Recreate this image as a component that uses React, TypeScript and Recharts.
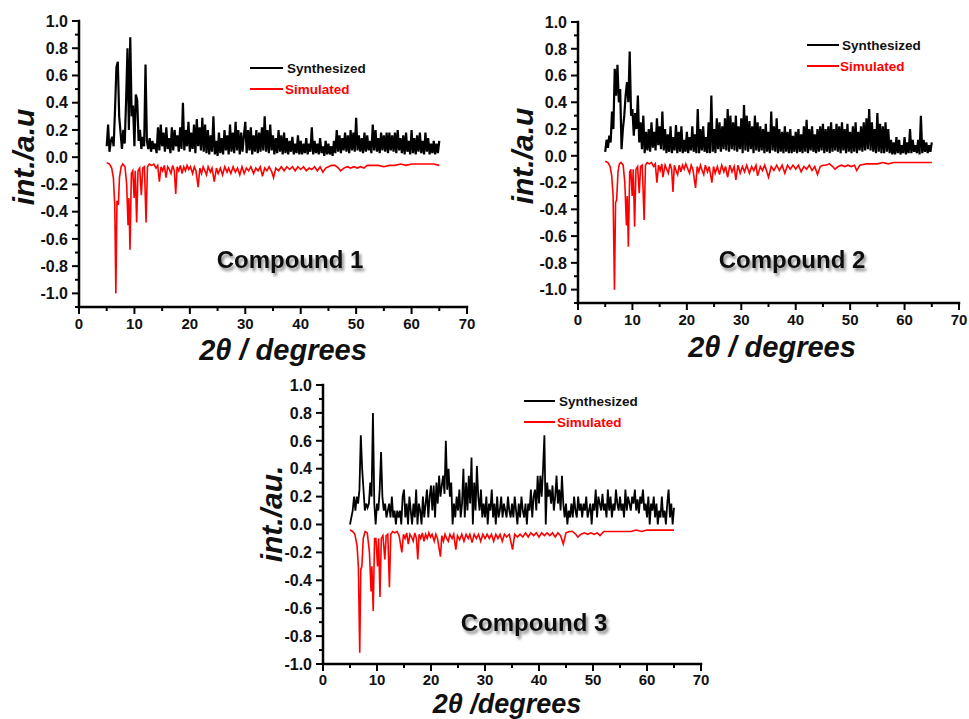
import React from 'react';
import { LineChart, Line, XAxis, YAxis } from 'recharts';

const FONT = '"Liberation Sans", Arial, Helvetica, sans-serif';

// 2θ grid of the measured (synthesized) patterns
const TWO_THETA = [
  5, 5.25, 5.5, 5.75, 6, 6.25, 6.5, 6.75, 7, 7.25, 7.5, 7.75, 8, 8.25, 8.5, 8.75, 9, 9.25, 9.5, 9.75,
  10, 10.25, 10.5, 10.75, 11, 11.25, 11.5, 11.75, 12, 12.25, 12.5, 12.75, 13, 13.25, 13.5, 13.75, 14, 14.25, 14.5, 14.75,
  15, 15.25, 15.5, 15.75, 16, 16.25, 16.5, 16.75, 17, 17.25, 17.5, 17.75, 18, 18.25, 18.5, 18.75, 19, 19.25, 19.5, 19.75,
  20, 20.25, 20.5, 20.75, 21, 21.25, 21.5, 21.75, 22, 22.25, 22.5, 22.75, 23, 23.25, 23.5, 23.75, 24, 24.25, 24.5, 24.75,
  25, 25.25, 25.5, 25.75, 26, 26.25, 26.5, 26.75, 27, 27.25, 27.5, 27.75, 28, 28.25, 28.5, 28.75, 29, 29.25, 29.5, 29.75,
  30, 30.25, 30.5, 30.75, 31, 31.25, 31.5, 31.75, 32, 32.25, 32.5, 32.75, 33, 33.25, 33.5, 33.75, 34, 34.25, 34.5, 34.75,
  35, 35.25, 35.5, 35.75, 36, 36.25, 36.5, 36.75, 37, 37.25, 37.5, 37.75, 38, 38.25, 38.5, 38.75, 39, 39.25, 39.5, 39.75,
  40, 40.25, 40.5, 40.75, 41, 41.25, 41.5, 41.75, 42, 42.25, 42.5, 42.75, 43, 43.25, 43.5, 43.75, 44, 44.25, 44.5, 44.75,
  45, 45.25, 45.5, 45.75, 46, 46.25, 46.5, 46.75, 47, 47.25, 47.5, 47.75, 48, 48.25, 48.5, 48.75, 49, 49.25, 49.5, 49.75,
  50, 50.25, 50.5, 50.75, 51, 51.25, 51.5, 51.75, 52, 52.25, 52.5, 52.75, 53, 53.25, 53.5, 53.75, 54, 54.25, 54.5, 54.75,
  55, 55.25, 55.5, 55.75, 56, 56.25, 56.5, 56.75, 57, 57.25, 57.5, 57.75, 58, 58.25, 58.5, 58.75, 59, 59.25, 59.5, 59.75,
  60, 60.25, 60.5, 60.75, 61, 61.25, 61.5, 61.75, 62, 62.25, 62.5, 62.75, 63, 63.25, 63.5, 63.75, 64, 64.25, 64.5, 64.75,
  65,
];

const SYN_1 = [
  0.08, 0.24, 0.04, 0.12, 0.15, 0.08, 0.35, 0.66, 0.70, 0.30, 0.18, 0.06, 0.20, 0.10, 0.42, 0.80, 0.20, 0.88, 0.30, 0.38,
  0.08, 0.46, 0.42, 0.12, 0.20, 0.06, 0.15, 0.08, 0.68, 0.12, 0.06, 0.14, 0.04, 0.12, 0.06, 0.10, 0.03, 0.22, 0.05, 0.24,
  0.08, 0.18, 0.04, 0.22, 0.06, 0.14, 0.03, 0.22, 0.05, 0.20, 0.08, 0.16, 0.04, 0.22, 0.06, 0.40, 0.05, 0.20, 0.08, 0.26,
  0.04, 0.18, 0.06, 0.24, 0.03, 0.28, 0.08, 0.22, 0.05, 0.29, 0.04, 0.24, 0.03, 0.20, 0.02, 0.16, 0.04, 0.30, 0.02, 0.12,
  0.01, 0.18, 0.03, 0.14, 0.02, 0.20, 0.05, 0.16, 0.02, 0.24, 0.04, 0.18, 0.03, 0.26, 0.05, 0.20, 0.02, 0.18, 0.04, 0.16,
  0.26, 0.03, 0.20, 0.05, 0.22, 0.02, 0.16, 0.04, 0.20, 0.03, 0.18, 0.04, 0.22, 0.05, 0.30, 0.04, 0.20, 0.03, 0.24, 0.05,
  0.16, 0.02, 0.14, 0.03, 0.20, 0.04, 0.16, 0.02, 0.18, 0.03, 0.14, 0.02, 0.12, 0.04, 0.15, 0.02, 0.10, 0.03, 0.16, 0.02,
  0.12, 0.02, 0.10, 0.03, 0.14, 0.02, 0.10, 0.04, 0.22, 0.02, 0.12, 0.03, 0.10, 0.02, 0.14, 0.03, 0.08, 0.01, 0.12, 0.02,
  0.10, 0.02, 0.08, 0.01, 0.12, 0.03, 0.20, 0.04, 0.16, 0.03, 0.14, 0.05, 0.18, 0.04, 0.16, 0.03, 0.20, 0.05, 0.18, 0.04,
  0.29, 0.05, 0.16, 0.04, 0.14, 0.03, 0.18, 0.04, 0.16, 0.05, 0.12, 0.03, 0.24, 0.05, 0.20, 0.04, 0.14, 0.03, 0.18, 0.05,
  0.16, 0.04, 0.18, 0.03, 0.18, 0.05, 0.16, 0.04, 0.18, 0.03, 0.20, 0.05, 0.14, 0.03, 0.16, 0.02, 0.18, 0.04, 0.12, 0.02,
  0.20, 0.03, 0.14, 0.02, 0.16, 0.04, 0.18, 0.03, 0.12, 0.02, 0.18, 0.04, 0.14, 0.02, 0.10, 0.03, 0.12, 0.02, 0.10, 0.03,
  0.12,
];

const SYN_2 = [
  0.03, 0.12, 0.06, 0.15, 0.10, 0.33, 0.20, 0.65, 0.45, 0.68, 0.40, 0.50, 0.05, 0.20, 0.30, 0.45, 0.55, 0.40, 0.78, 0.30,
  0.35, 0.15, 0.32, 0.20, 0.45, 0.10, 0.25, 0.05, 0.30, 0.02, 0.18, 0.04, 0.20, 0.03, 0.25, 0.06, 0.18, 0.04, 0.28, 0.08,
  0.22, 0.05, 0.33, 0.04, 0.20, 0.02, 0.16, 0.03, 0.22, 0.02, 0.14, 0.04, 0.23, 0.02, 0.18, 0.03, 0.22, 0.02, 0.12, 0.03,
  0.18, 0.02, 0.14, 0.04, 0.22, 0.03, 0.16, 0.02, 0.35, 0.02, 0.20, 0.04, 0.22, 0.03, 0.14, 0.02, 0.25, 0.02, 0.45, 0.03,
  0.20, 0.02, 0.28, 0.05, 0.25, 0.03, 0.22, 0.05, 0.28, 0.04, 0.35, 0.03, 0.30, 0.05, 0.25, 0.04, 0.30, 0.03, 0.22, 0.05,
  0.28, 0.02, 0.38, 0.04, 0.30, 0.03, 0.26, 0.05, 0.22, 0.02, 0.30, 0.04, 0.25, 0.03, 0.22, 0.04, 0.20, 0.02, 0.24, 0.03,
  0.18, 0.02, 0.33, 0.04, 0.22, 0.03, 0.28, 0.02, 0.20, 0.03, 0.18, 0.02, 0.22, 0.03, 0.18, 0.02, 0.20, 0.02, 0.15, 0.03,
  0.18, 0.02, 0.20, 0.03, 0.16, 0.02, 0.22, 0.03, 0.27, 0.02, 0.20, 0.04, 0.22, 0.03, 0.16, 0.02, 0.20, 0.03, 0.22, 0.04,
  0.24, 0.02, 0.20, 0.03, 0.22, 0.02, 0.25, 0.03, 0.20, 0.04, 0.24, 0.03, 0.22, 0.02, 0.25, 0.04, 0.20, 0.02, 0.24, 0.03,
  0.18, 0.02, 0.22, 0.03, 0.25, 0.02, 0.18, 0.04, 0.22, 0.03, 0.25, 0.04, 0.28, 0.05, 0.35, 0.04, 0.25, 0.03, 0.20, 0.02,
  0.32, 0.03, 0.24, 0.02, 0.22, 0.02, 0.25, 0.03, 0.20, 0.02, 0.12, 0.01, 0.10, 0.01, 0.14, 0.02, 0.12, 0.01, 0.08, 0.02,
  0.14, 0.01, 0.10, 0.02, 0.20, 0.02, 0.12, 0.03, 0.08, 0.02, 0.12, 0.01, 0.30, 0.02, 0.12, 0.03, 0.10, 0.02, 0.08, 0.03,
  0.10,
];

const SYN_3 = [
  0.00, 0.05, 0.10, 0.20, 0.10, 0.20, 0.15, 0.25, 0.64, 0.40, 0.25, 0.10, 0.15, 0.12, 0.15, 0.30, 0.20, 0.80, 0.15, 0.00,
  0.15, 0.10, 0.25, 0.52, 0.20, 0.10, 0.15, 0.05, 0.10, 0.15, 0.05, 0.20, 0.05, 0.10, 0.00, 0.10, 0.05, 0.10, 0.00, 0.20,
  0.25, 0.05, 0.15, 0.00, 0.20, 0.10, 0.00, 0.15, 0.05, 0.25, 0.00, 0.15, 0.10, 0.00, 0.20, 0.05, 0.15, 0.25, 0.05, 0.20,
  0.28, 0.10, 0.28, 0.05, 0.30, 0.15, 0.35, 0.20, 0.28, 0.35, 0.22, 0.60, 0.25, 0.40, 0.20, 0.30, 0.00, 0.15, 0.05, 0.20,
  0.10, 0.25, 0.05, 0.15, 0.40, 0.05, 0.30, 0.10, 0.35, 0.15, 0.48, 0.00, 0.30, 0.10, 0.42, 0.20, 0.10, 0.25, 0.05, 0.15,
  0.05, 0.20, 0.00, 0.15, 0.10, 0.25, 0.05, 0.15, 0.00, 0.20, 0.05, 0.10, 0.20, 0.05, 0.15, 0.10, 0.05, 0.20, 0.10, 0.05,
  0.15, 0.05, 0.20, 0.10, 0.00, 0.15, 0.05, 0.20, 0.10, 0.05, 0.15, 0.00, 0.15, 0.10, 0.25, 0.05, 0.20, 0.25, 0.10, 0.35,
  0.15, 0.35, 0.20, 0.40, 0.64, 0.00, 0.30, 0.20, 0.25, 0.15, 0.28, 0.10, 0.20, 0.35, 0.15, 0.25, 0.10, 0.35, 0.15, 0.05,
  0.15, 0.00, 0.10, 0.05, 0.15, 0.05, 0.20, 0.10, 0.05, 0.20, 0.10, 0.15, 0.05, 0.15, 0.10, 0.20, 0.05, 0.10, 0.15, 0.00,
  0.15, 0.10, 0.25, 0.05, 0.20, 0.15, 0.10, 0.22, 0.10, 0.15, 0.05, 0.25, 0.10, 0.20, 0.05, 0.15, 0.10, 0.25, 0.15, 0.10,
  0.20, 0.10, 0.15, 0.05, 0.25, 0.10, 0.20, 0.15, 0.10, 0.20, 0.15, 0.25, 0.10, 0.18, 0.08, 0.20, 0.15, 0.25, 0.10, 0.15,
  0.05, 0.20, 0.00, 0.15, 0.10, 0.20, 0.05, 0.15, 0.00, 0.10, 0.05, 0.20, 0.05, 0.10, 0.00, 0.15, 0.25, 0.05, 0.15, 0.00,
  0.12,
];

// simulated patterns: [2θ, intensity] (drawn inverted below zero)
const SIM_1: [number, number][] = [
  [5.0, -0.04], [5.5, -0.05], [5.9, -0.08], [6.2, -0.15], [6.45, -0.35], [6.65, -1.0], [6.85, -0.32], [7.1, -0.35],
  [7.3, -0.15], [7.6, -0.07], [7.9, -0.05], [8.3, -0.07], [8.6, -0.2], [8.85, -0.5], [9.0, -0.3], [9.2, -0.68],
  [9.45, -0.12], [9.7, -0.1], [9.95, -0.3], [10.15, -0.1], [10.4, -0.48], [10.65, -0.1], [10.95, -0.08], [11.25, -0.28],
  [11.5, -0.08], [11.8, -0.07], [12.1, -0.48], [12.35, -0.07], [12.7, -0.05], [13.1, -0.06], [13.5, -0.05], [13.9, -0.08],
  [14.2, -0.06], [14.5, -0.18], [14.8, -0.07], [15.1, -0.1], [15.4, -0.06], [15.7, -0.15], [16.0, -0.07], [16.3, -0.09],
  [16.6, -0.12], [16.9, -0.06], [17.2, -0.1], [17.45, -0.27], [17.7, -0.07], [18.0, -0.1], [18.3, -0.06], [18.6, -0.12],
  [18.9, -0.07], [19.2, -0.1], [19.5, -0.06], [19.8, -0.09], [20.1, -0.07], [20.5, -0.12], [20.8, -0.07], [21.1, -0.1],
  [21.5, -0.22], [21.8, -0.08], [22.1, -0.12], [22.4, -0.07], [22.7, -0.1], [23.0, -0.13], [23.3, -0.07], [23.7, -0.11],
  [24.0, -0.08], [24.4, -0.18], [24.8, -0.08], [25.1, -0.12], [25.5, -0.08], [25.9, -0.13], [26.3, -0.07], [26.7, -0.11],
  [27.0, -0.08], [27.4, -0.12], [27.8, -0.07], [28.2, -0.11], [28.6, -0.08], [29.0, -0.13], [29.4, -0.07], [29.8, -0.12],
  [30.2, -0.08], [30.6, -0.1], [31.0, -0.07], [31.5, -0.12], [31.9, -0.08], [32.3, -0.1], [32.7, -0.07], [33.1, -0.14],
  [33.5, -0.08], [33.9, -0.1], [34.3, -0.07], [34.8, -0.11], [35.1, -0.15], [35.5, -0.08], [36.0, -0.1], [36.5, -0.07],
  [37.0, -0.1], [37.5, -0.07], [38.0, -0.09], [38.5, -0.07], [39.0, -0.1], [39.5, -0.07], [40.0, -0.09], [40.5, -0.07],
  [41.0, -0.1], [41.5, -0.08], [42.0, -0.09], [42.5, -0.07], [43.0, -0.1], [43.5, -0.07], [44.0, -0.11], [44.5, -0.08],
  [45.0, -0.07], [45.6, -0.06], [46.2, -0.06], [46.8, -0.08], [47.2, -0.1], [47.8, -0.08], [48.4, -0.07], [49.0, -0.08],
  [49.6, -0.07], [50.2, -0.08], [50.8, -0.07], [51.4, -0.08], [52.0, -0.06], [53.0, -0.06], [54.0, -0.06], [55.0, -0.07],
  [56.0, -0.06], [57.0, -0.06], [58.0, -0.05], [59.0, -0.06], [60.0, -0.05], [61.0, -0.05], [62.0, -0.05], [63.0, -0.05],
  [64.0, -0.05], [65.0, -0.06],
];

const SIM_2: [number, number][] = [
  [5.0, -0.04], [5.5, -0.05], [5.9, -0.08], [6.2, -0.15], [6.45, -0.3], [6.7, -1.0], [6.9, -0.35], [7.1, -0.33],
  [7.35, -0.12], [7.6, -0.06], [7.9, -0.05], [8.3, -0.07], [8.6, -0.2], [8.9, -0.52], [9.05, -0.3], [9.25, -0.68],
  [9.5, -0.12], [9.7, -0.1], [9.95, -0.3], [10.15, -0.1], [10.4, -0.53], [10.65, -0.1], [10.95, -0.08], [11.25, -0.28],
  [11.5, -0.08], [11.8, -0.07], [12.15, -0.48], [12.4, -0.07], [12.7, -0.05], [13.1, -0.06], [13.5, -0.05], [13.9, -0.08],
  [14.2, -0.06], [14.5, -0.2], [14.8, -0.07], [15.1, -0.11], [15.4, -0.06], [15.6, -0.16], [16.0, -0.07], [16.3, -0.1],
  [16.6, -0.13], [16.9, -0.06], [17.2, -0.1], [17.45, -0.27], [17.7, -0.07], [18.0, -0.11], [18.3, -0.14], [18.6, -0.07],
  [18.9, -0.12], [19.2, -0.07], [19.5, -0.1], [19.8, -0.06], [20.1, -0.09], [20.5, -0.13], [20.8, -0.07], [21.1, -0.1],
  [21.6, -0.24], [21.9, -0.08], [22.2, -0.12], [22.5, -0.07], [22.8, -0.11], [23.1, -0.14], [23.4, -0.07], [23.8, -0.12],
  [24.1, -0.08], [24.6, -0.2], [24.9, -0.08], [25.2, -0.13], [25.6, -0.08], [26.0, -0.14], [26.4, -0.07], [26.8, -0.12],
  [27.1, -0.08], [27.5, -0.16], [27.9, -0.07], [28.3, -0.12], [28.7, -0.08], [29.0, -0.18], [29.4, -0.07], [29.8, -0.13],
  [30.2, -0.08], [30.6, -0.12], [31.0, -0.07], [31.5, -0.13], [31.9, -0.08], [32.3, -0.11], [32.7, -0.07], [33.0, -0.15],
  [33.5, -0.08], [33.9, -0.11], [34.3, -0.07], [34.7, -0.12], [35.0, -0.16], [35.5, -0.08], [36.0, -0.11], [36.5, -0.07],
  [37.0, -0.11], [37.5, -0.07], [38.0, -0.13], [38.5, -0.07], [39.0, -0.1], [39.5, -0.07], [40.0, -0.1], [40.5, -0.07],
  [41.0, -0.12], [41.5, -0.08], [42.0, -0.1], [42.5, -0.07], [43.0, -0.11], [43.5, -0.08], [44.0, -0.14], [44.5, -0.08],
  [45.0, -0.07], [45.5, -0.07], [46.2, -0.06], [46.8, -0.08], [47.2, -0.1], [47.8, -0.08], [48.4, -0.07], [49.0, -0.08],
  [49.6, -0.07], [50.2, -0.08], [50.8, -0.07], [51.2, -0.11], [51.8, -0.07], [53.0, -0.06], [54.0, -0.06], [55.0, -0.06],
  [56.0, -0.05], [57.0, -0.06], [58.0, -0.05], [59.0, -0.05], [60.0, -0.05], [61.0, -0.05], [62.0, -0.05], [63.0, -0.05],
  [64.0, -0.05], [65.0, -0.05],
];

const SIM_3: [number, number][] = [
  [5.0, -0.04], [5.5, -0.05], [5.9, -0.07], [6.3, -0.15], [6.55, -0.3], [6.8, -0.92], [7.0, -0.32], [7.2, -0.3],
  [7.45, -0.1], [7.8, -0.05], [8.2, -0.06], [8.6, -0.2], [8.9, -0.48], [9.05, -0.3], [9.3, -0.62], [9.55, -0.1],
  [9.8, -0.1], [10.1, -0.3], [10.3, -0.1], [10.55, -0.52], [10.8, -0.1], [11.1, -0.08], [11.45, -0.25], [11.7, -0.08],
  [12.0, -0.07], [12.3, -0.45], [12.55, -0.07], [12.9, -0.05], [13.3, -0.06], [13.7, -0.05], [14.1, -0.08], [14.6, -0.2],
  [14.9, -0.07], [15.2, -0.1], [15.5, -0.06], [15.8, -0.14], [16.1, -0.07], [16.4, -0.09], [16.7, -0.12], [17.0, -0.06],
  [17.3, -0.1], [17.55, -0.25], [17.8, -0.07], [18.1, -0.1], [18.4, -0.06], [18.7, -0.12], [19.0, -0.07], [19.3, -0.1],
  [19.6, -0.06], [19.9, -0.09], [20.2, -0.07], [20.6, -0.12], [20.9, -0.07], [21.2, -0.1], [21.75, -0.23], [22.0, -0.08],
  [22.3, -0.12], [22.6, -0.07], [22.9, -0.1], [23.2, -0.12], [23.5, -0.07], [23.9, -0.1], [24.2, -0.07], [24.6, -0.18],
  [24.9, -0.08], [25.3, -0.11], [25.7, -0.07], [26.1, -0.12], [26.5, -0.07], [26.9, -0.1], [27.2, -0.07], [27.6, -0.13],
  [28.0, -0.07], [28.4, -0.1], [28.8, -0.07], [29.2, -0.12], [29.6, -0.07], [30.0, -0.1], [30.4, -0.07], [30.8, -0.1],
  [31.2, -0.07], [31.6, -0.12], [32.0, -0.07], [32.4, -0.1], [32.8, -0.07], [33.2, -0.12], [33.6, -0.07], [34.0, -0.09],
  [34.5, -0.07], [35.1, -0.18], [35.5, -0.07], [36.0, -0.09], [36.5, -0.07], [37.0, -0.09], [37.5, -0.06], [38.0, -0.09],
  [38.5, -0.06], [39.0, -0.08], [39.5, -0.06], [40.0, -0.09], [40.5, -0.06], [41.0, -0.08], [41.5, -0.06], [42.0, -0.08],
  [42.5, -0.06], [43.0, -0.09], [43.5, -0.06], [44.0, -0.08], [44.5, -0.14], [45.0, -0.06], [45.6, -0.05], [46.2, -0.05],
  [46.8, -0.07], [47.2, -0.09], [47.8, -0.07], [48.4, -0.06], [49.0, -0.07], [49.6, -0.06], [50.2, -0.07], [50.8, -0.06],
  [51.3, -0.08], [52.0, -0.05], [53.0, -0.05], [54.0, -0.05], [55.0, -0.05], [56.0, -0.05], [57.0, -0.05], [58.0, -0.04],
  [59.0, -0.05], [60.0, -0.04], [61.0, -0.04], [62.0, -0.04], [63.0, -0.04], [64.0, -0.04], [65.0, -0.04],
];

const X_TICKS = [0, 5, 10, 15, 20, 25, 30, 35, 40, 45, 50, 55, 60, 65, 70];
const Y_TICKS_LONG = [-1.1, -1.0, -0.9, -0.8, -0.7, -0.6, -0.5, -0.4, -0.3, -0.2, -0.1, 0, 0.1, 0.2, 0.3, 0.4, 0.5, 0.6, 0.7, 0.8, 0.9, 1.0];
const Y_TICKS_SHORT = [-1.0, -0.9, -0.8, -0.7, -0.6, -0.5, -0.4, -0.3, -0.2, -0.1, 0, 0.1, 0.2, 0.3, 0.4, 0.5, 0.6, 0.7, 0.8, 0.9, 1.0];

const Y_AXIS_W = 45;
const X_AXIS_H = 30;

interface Box { left: number; top: number; width: number; height: number; }
interface Plot { left: number; right: number; top: number; bottom: number; }

interface PanelProps {
  box: Box;
  plot: Plot;
  yDomain: [number, number];
  yTicks: number[];
  syn: number[];
  sim: [number, number][];
  synWidth: number;
  xLabelDy: number;
}

function Panel({ box, plot, yDomain, yTicks, syn, sim, synWidth, xLabelDy }: PanelProps) {
  const margin = {
    left: plot.left - box.left - Y_AXIS_W,
    right: box.left + box.width - plot.right,
    top: plot.top - box.top,
    bottom: box.top + box.height - plot.bottom - X_AXIS_H,
  };
  const axisX = plot.left - box.left;
  const axisY = plot.bottom - box.top;
  const synData = TWO_THETA.map((x, i) => ({ x, y: syn[i] }));
  const simData = sim.map(([x, y]) => ({ x, y }));

  const yTick = (p: any) => {
    const v = p.payload.value as number;
    const major = Math.round(v * 10) % 2 === 0;
    return (
      <g>
        <line x1={axisX - (major ? 7 : 4)} x2={axisX} y1={p.y} y2={p.y} stroke="#000" strokeWidth={2} />
        {major && (
          <text x={axisX - 11} y={p.y} dy="0.36em" textAnchor="end" fontFamily={FONT} fontWeight="bold" fontSize={16} fill="#111">
            {v.toFixed(1)}
          </text>
        )}
      </g>
    );
  };

  const xTick = (p: any) => {
    const v = p.payload.value as number;
    const major = v % 10 === 0;
    return (
      <g>
        <line x1={p.x} x2={p.x} y1={axisY} y2={axisY + (major ? 7 : 4)} stroke="#000" strokeWidth={2} />
        {major && (
          <text x={p.x} y={axisY + xLabelDy} textAnchor="middle" fontFamily={FONT} fontWeight="bold" fontSize={15} fill="#111">
            {v}
          </text>
        )}
      </g>
    );
  };

  return (
    <div style={{ position: 'absolute', left: box.left, top: box.top }}>
      <LineChart width={box.width} height={box.height} margin={margin}>
        <XAxis type="number" dataKey="x" domain={[0, 70]} ticks={X_TICKS} interval={0} height={X_AXIS_H}
          allowDataOverflow axisLine={{ stroke: '#000', strokeWidth: 2.5, strokeLinecap: 'square' }} tickLine={false} tick={xTick} />
        <YAxis type="number" dataKey="y" domain={yDomain} ticks={yTicks} interval={0} width={Y_AXIS_W}
          allowDataOverflow axisLine={{ stroke: '#000', strokeWidth: 2.5, strokeLinecap: 'square' }} tickLine={false} tick={yTick} />
        <Line data={synData} dataKey="y" type="linear" stroke="#000" strokeWidth={synWidth} dot={false} isAnimationActive={false} />
        <Line data={simData} dataKey="y" type="linear" stroke="#ff0000" strokeWidth={1.6} dot={false} isAnimationActive={false} />
      </LineChart>
    </div>
  );
}

const titleStyle = { fontFamily: FONT, fontWeight: 'bold' as const, fontStyle: 'italic' as const, fontSize: 30, fill: '#111' };
const compoundStyle = { fontFamily: FONT, fontWeight: 'bold' as const, fontSize: 24, fill: '#111' };
const legendStyle = { fontFamily: FONT, fontWeight: 'bold' as const, fontSize: 13.5 };

function Legend({ x1, x2, y, textX }: { x1: number; x2: number; y: number; textX: number }) {
  return (
    <g>
      <line x1={x1} x2={x2} y1={y} y2={y} stroke="#000" strokeWidth={2} />
      <text x={textX} y={y + 5} {...legendStyle} fill="#111">Synthesized</text>
      <line x1={x1} x2={x2} y1={y + 21} y2={y + 21} stroke="#ff0000" strokeWidth={2} />
      <text x={textX - 2} y={y + 26} {...legendStyle} fill="#ff0000">Simulated</text>
    </g>
  );
}

export default function App() {
  return (
    <div style={{ position: 'absolute', left: 0, top: 0, width: 969, height: 719, background: '#fff', overflow: 'hidden' }}>
      <Panel box={{ left: 0, top: 0, width: 480, height: 340 }} plot={{ left: 79, right: 467, top: 21, bottom: 307 }}
        yDomain={[-1.1, 1.0]} yTicks={Y_TICKS_LONG} syn={SYN_1} sim={SIM_1} synWidth={2.2} xLabelDy={22} />
      <Panel box={{ left: 490, top: 0, width: 479, height: 340 }} plot={{ left: 578, right: 959, top: 22, bottom: 303 }}
        yDomain={[-1.1, 1.0]} yTicks={Y_TICKS_LONG} syn={SYN_2} sim={SIM_2} synWidth={2.2} xLabelDy={22} />
      <Panel box={{ left: 250, top: 360, width: 470, height: 340 }} plot={{ left: 323, right: 701, top: 385, bottom: 664 }}
        yDomain={[-1.0, 1.0]} yTicks={Y_TICKS_SHORT} syn={SYN_3} sim={SIM_3} synWidth={1.8} xLabelDy={21} />

      <svg width={969} height={719} style={{ position: 'absolute', left: 0, top: 0, pointerEvents: 'none' }}>
        <defs>
          <filter id="shadow" x="-10%" y="-30%" width="130%" height="180%">
            <feDropShadow dx="2" dy="3" stdDeviation="1.6" floodColor="#000" floodOpacity="0.45" />
          </filter>
        </defs>

        <text transform="translate(34,157) rotate(-90)" textAnchor="middle" {...titleStyle}>int./a.u</text>
        <text x={283} y={360} textAnchor="middle" {...titleStyle} fontSize={29}>2θ / degrees</text>
        <text x={290} y={268} textAnchor="middle" {...compoundStyle} filter="url(#shadow)">Compound 1</text>
        <Legend x1={250} x2={283} y={68} textX={287} />

        <text transform="translate(533,156) rotate(-90)" textAnchor="middle" {...titleStyle}>int./a.u</text>
        <text x={772} y={357} textAnchor="middle" {...titleStyle} fontSize={29}>2θ / degrees</text>
        <text x={792} y={268} textAnchor="middle" {...compoundStyle} filter="url(#shadow)">Compound 2</text>
        <Legend x1={807} x2={839} y={45} textX={842} />

        <text transform="translate(282,514) rotate(-90)" textAnchor="middle" {...titleStyle}>int./au.</text>
        <text x={507} y={713} textAnchor="middle" {...titleStyle} fontSize={27}>2θ /degrees</text>
        <text x={534} y={631} textAnchor="middle" {...compoundStyle} filter="url(#shadow)">Compound 3</text>
        <Legend x1={524} x2={555} y={401} textX={559} />
      </svg>
    </div>
  );
}
